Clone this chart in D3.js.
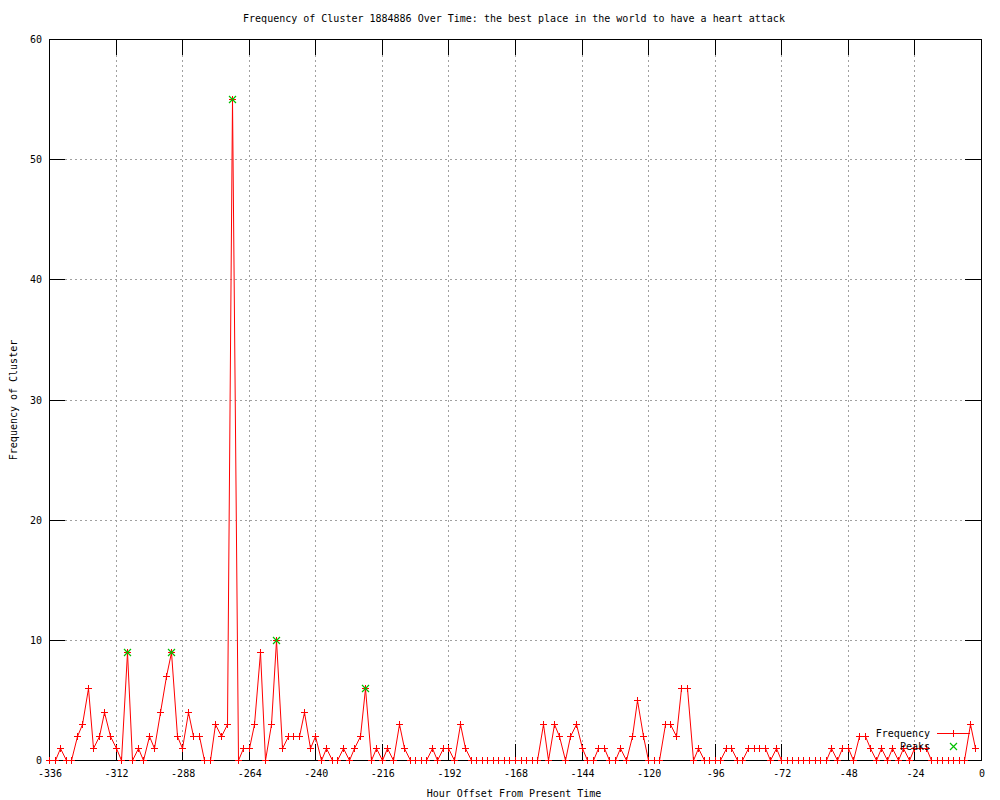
<!DOCTYPE html>
<html lang="en">
  <head>
    <meta charset="utf-8" />
    <title>Frequency of Cluster 1884886</title>
    <script type="text/javascript" src="https://d3js.org/d3.v7.min.js"></script>
    <style>
      body { margin: 0; background: #fff; }
      text { font-family: "DejaVu Sans Mono", "Liberation Mono", monospace; font-size: 10px; fill: #000; }
    </style>
  </head>
  <body>
    <div id="chart"></div>

    <script type="text/javascript">
      /********************************
       * data (one value every 2 hours, starting at -336)
       ********************************/

      const startHour = -336;
      const stepHours = 2;
      const frequency = [
        0, 0, 1, 0, 0, 2, 3, 6, 1, 2, 4, 2, 1, 0, 9, 0,
        1, 0, 2, 1, 4, 7, 9, 2, 1, 4, 2, 2, 0, 0, 3, 2,
        3, 55, 0, 1, 1, 3, 9, 0, 3, 10, 1, 2, 2, 2, 4, 1,
        2, 0, 1, 0, 0, 1, 0, 1, 2, 6, 0, 1, 0, 1, 0, 3,
        1, 0, 0, 0, 0, 1, 0, 1, 1, 0, 3, 1, 0, 0, 0, 0,
        0, 0, 0, 0, 0, 0, 0, 0, 0, 3, 0, 3, 2, 0, 2, 3,
        1, 0, 0, 1, 1, 0, 0, 1, 0, 2, 5, 2, 0, 0, 0, 3,
        3, 2, 6, 6, 0, 1, 0, 0, 0, 0, 1, 1, 0, 0, 1, 1,
        1, 1, 0, 1, 0, 0, 0, 0, 0, 0, 0, 0, 0, 1, 0, 1,
        1, 0, 2, 2, 1, 0, 1, 0, 1, 0, 1, 0, 1, 1, 1, 0,
        0, 0, 0, 0, 0, 0, 3, 1,
      ];
      const hours = frequency.map((_, i) => startHour + i * stepHours);

      const peakHours = [-308, -292, -270, -254, -222];
      const peakValues = [9, 9, 55, 10, 6];

      const xTicks = [-336, -312, -288, -264, -240, -216, -192, -168, -144, -120, -96, -72, -48, -24, 0];
      const yTicks = [0, 10, 20, 30, 40, 50, 60];

      const titleText = "Frequency of Cluster 1884886 Over Time: the best place in the world to have a heart attack";
      const xLabel = "Hour Offset From Present Time";
      const yLabel = "Frequency of Cluster";

      /***************************
       * svg + scales
       **************************/

      const width = 1000;
      const height = 800;
      const margin = { top: 39, right: 19, bottom: 40, left: 49 };
      const tickLen = 16;

      const svg = d3
        .select("div#chart")
        .append("svg")
        .attr("width", width)
        .attr("height", height)
        .style("background-color", "white");

      const x = d3.scaleLinear().domain([-336, 0]).range([margin.left, width - margin.right]);
      const y = d3.scaleLinear().domain([0, 60]).range([height - margin.bottom, margin.top]);

      const x0 = margin.left, x1 = width - margin.right;
      const y0 = height - margin.bottom, y1 = margin.top;
      const px = (h) => Math.round(x(h)) + 0.5;
      const py = (v) => Math.round(y(v)) + 0.5;

      /****************************
       * grid (dashed, between ticks)
       ****************************/

      const grid = svg.append("g")
        .attr("stroke", "#a0a0a0")
        .attr("stroke-dasharray", "2,3")
        .attr("shape-rendering", "crispEdges");

      grid.selectAll("line.gx")
        .data(xTicks.filter((d) => d > -336 && d < 0))
        .enter()
        .append("line")
        .attr("x1", px)
        .attr("x2", px)
        .attr("y1", y1 + tickLen)
        .attr("y2", y0 - tickLen);

      grid.selectAll("line.gy")
        .data(yTicks.filter((d) => d > 0 && d < 60))
        .enter()
        .append("line")
        .attr("y1", py)
        .attr("y2", py)
        .attr("x1", x0 + tickLen)
        .attr("x2", x1 - tickLen);

      /****************************
       * border + ticks (mirrored on all sides)
       ****************************/

      const axes = svg.append("g")
        .attr("stroke", "#000")
        .attr("shape-rendering", "crispEdges");

      axes.append("rect")
        .attr("x", x0 + 0.5)
        .attr("y", y1 + 0.5)
        .attr("width", x1 - x0)
        .attr("height", y0 - y1)
        .attr("fill", "none");

      xTicks.forEach((t) => {
        axes.append("line").attr("x1", px(t)).attr("x2", px(t)).attr("y1", y0).attr("y2", y0 - tickLen);
        axes.append("line").attr("x1", px(t)).attr("x2", px(t)).attr("y1", y1).attr("y2", y1 + tickLen);
      });
      yTicks.forEach((t) => {
        axes.append("line").attr("y1", py(t)).attr("y2", py(t)).attr("x1", x0).attr("x2", x0 + tickLen);
        axes.append("line").attr("y1", py(t)).attr("y2", py(t)).attr("x1", x1).attr("x2", x1 - tickLen);
      });

      // tick labels
      svg.selectAll("text.xt")
        .data(xTicks)
        .enter()
        .append("text")
        .attr("x", (d) => x(d) + 1)
        .attr("y", y0 + 17)
        .attr("text-anchor", "middle")
        .text((d) => String(d));

      svg.selectAll("text.yt")
        .data(yTicks)
        .enter()
        .append("text")
        .attr("x", x0 - 7)
        .attr("y", (d) => y(d) + 4)
        .attr("text-anchor", "end")
        .text((d) => d);

      /****************************
       * titles
       ****************************/

      svg.append("text")
        .attr("x", 514)
        .attr("y", 22)
        .attr("text-anchor", "middle")
        .text(titleText);

      svg.append("text")
        .attr("x", 514)
        .attr("y", 797)
        .attr("text-anchor", "middle")
        .text(xLabel);

      svg.append("text")
        .attr("transform", "translate(17,400) rotate(-90)")
        .attr("text-anchor", "middle")
        .text(yLabel);

      /****************************
       * frequency line + points
       ****************************/

      const series = hours.map((h, i) => ({ h: h, v: frequency[i] }));

      const line = d3.line()
        .x((d) => px(d.h))
        .y((d) => py(d.v));

      svg.append("path")
        .datum(series)
        .attr("fill", "none")
        .attr("stroke", "#ff0000")
        .attr("stroke-width", 1)
        .attr("d", line);

      const plus = (cx, cy, s) => `M${cx - s},${cy}H${cx + s}M${cx},${cy - s}V${cy + s}`;
      const cross = (cx, cy, s) => `M${cx - s},${cy - s}L${cx + s},${cy + s}M${cx - s},${cy + s}L${cx + s},${cy - s}`;

      svg.append("g")
        .selectAll("path")
        .data(series)
        .enter()
        .append("path")
        .attr("stroke", "#ff0000")
        .attr("fill", "none")
        .attr("shape-rendering", "crispEdges")
        .attr("d", (d) => plus(px(d.h), py(d.v), 3.5));

      // peaks
      svg.append("g")
        .selectAll("path")
        .data(peakHours)
        .enter()
        .append("path")
        .attr("stroke", "#00c000")
        .attr("stroke-width", 1.2)
        .attr("fill", "none")
        .attr("d", (d, i) => cross(px(d), py(peakValues[i]), 3.5));

      /****************************
       * legend
       ****************************/

      const legend = svg.append("g");
      legend.append("text").attr("x", 930).attr("y", 737).attr("text-anchor", "end").text("Frequency");
      legend.append("rect")
        .attr("x", 937).attr("y", 733).attr("width", 33).attr("height", 1)
        .attr("fill", "#ff0000");
      legend.append("rect")
        .attr("x", 953).attr("y", 730).attr("width", 1).attr("height", 7)
        .attr("fill", "#ff0000");
      legend.append("text").attr("x", 930).attr("y", 750).attr("text-anchor", "end").text("Peaks");
      legend.append("path").attr("stroke", "#00c000").attr("stroke-width", 1.2).attr("fill", "none").attr("d", cross(953.5, 746.5, 3.5));
    </script>
  </body>
</html>
